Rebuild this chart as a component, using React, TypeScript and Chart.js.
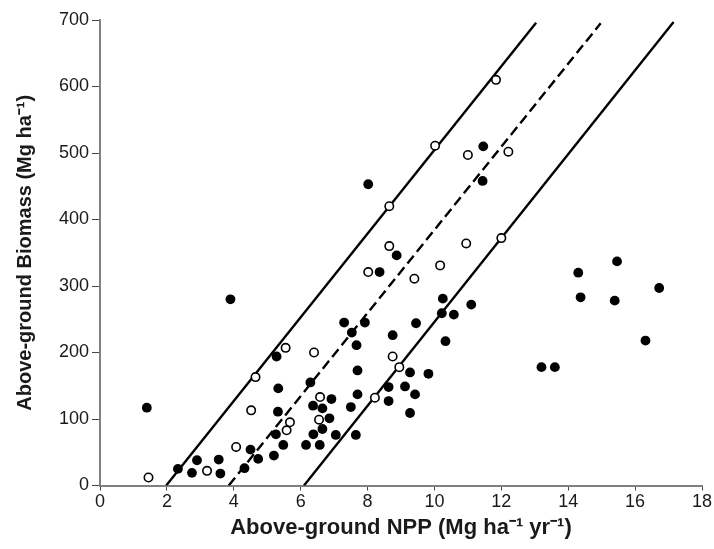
import React, { useEffect, useRef } from "react";
import { Chart, registerables } from "chart.js";

Chart.register(...registerables);

// Filled circles (closed symbols)
const filledX = [1.4, 3.9, 2.33, 2.75, 2.9, 3.55, 3.6, 4.32, 4.5, 4.73, 5.2, 5.28, 5.33, 5.32, 5.26, 5.48, 6.16, 6.29, 6.37, 6.38, 6.57, 6.65, 6.65, 6.86, 6.92, 7.05, 7.3, 7.92, 7.53, 7.67, 8.75, 9.45, 10.25, 10.22, 10.58, 11.1, 10.33, 7.7, 7.7, 7.5, 7.65, 8.63, 8.63, 9.27, 9.12, 9.42, 9.27, 9.82, 13.2, 13.6, 14.3, 14.37, 15.46, 15.39, 16.72, 16.31, 8.02, 11.46, 11.44, 8.36, 8.87];
const filledY = [117, 280, 25, 19, 38, 39, 18, 26, 54, 40, 45, 194, 146, 111, 77, 61, 61, 155, 120, 77, 61, 116, 85, 101, 130, 76, 245, 245, 230, 211, 226, 244, 281, 259, 257, 272, 217, 173, 137, 118, 76, 148, 127, 170, 149, 137, 109, 168, 178, 178, 320, 283, 337, 278, 297, 218, 453, 510, 458, 321, 346];

// Open circles
const openX = [1.45, 3.2, 4.07, 4.52, 4.65, 5.55, 5.68, 5.58, 6.4, 6.58, 6.55, 8.65, 8.02, 9.4, 10.17, 10.95, 12.0, 8.75, 8.95, 8.22, 11.84, 10.02, 11.0, 12.21, 8.65];
const openY = [12, 22, 58, 113, 163, 207, 95, 83, 200, 133, 99, 360, 321, 311, 331, 364, 372, 194, 178, 132, 610, 511, 497, 502, 420];

// Reference lines (endpoints in data units)
const upperLineX = [1.98, 13.04];
const upperLineY = [0, 696];
const midLineX = [3.85, 14.97];
const midLineY = [0, 695];
const lowerLineX = [6.1, 17.15];
const lowerLineY = [0, 697];

const xTitle = "Above-ground NPP (Mg ha\u207B\u00B9 yr\u207B\u00B9)";
const yTitle = "Above-ground Biomass (Mg ha\u207B\u00B9)";

const zip = (xs: number[], ys: number[]) => xs.map((x, i) => ({ x, y: ys[i] }));

export default function App() {
  const ref = useRef<HTMLCanvasElement | null>(null);

  useEffect(() => {
    if (!ref.current) return;
    const font = "'Liberation Sans', Arial, Helvetica, sans-serif";
    const lineDs = (xs: number[], ys: number[], dash: number[]) => ({
      type: "scatter" as const,
      data: zip(xs, ys),
      showLine: true,
      borderColor: "#000",
      borderWidth: 2.4,
      borderDash: dash,
      pointRadius: 0,
      pointHoverRadius: 0,
      fill: false,
      order: 2,
    });
    const chart = new Chart(ref.current, {
      type: "scatter",
      data: {
        datasets: [
          {
            data: zip(openX, openY),
            pointRadius: 4.2,
            pointBorderWidth: 1.6,
            pointBackgroundColor: "#fff",
            pointBorderColor: "#000",
            order: 0,
          } as any,
          {
            data: zip(filledX, filledY),
            pointRadius: 4.9,
            pointBorderWidth: 0,
            pointBackgroundColor: "#000",
            pointBorderColor: "#000",
            order: 1,
          } as any,
          lineDs(upperLineX, upperLineY, []),
          lineDs(midLineX, midLineY, [10, 5]),
          lineDs(lowerLineX, lowerLineY, []),
        ],
      },
      options: {
        responsive: false,
        animation: false,
        devicePixelRatio: 1,
        layout: { padding: { top: 20, right: 12, left: 0, bottom: 0 } },
        plugins: {
          legend: { display: false },
          tooltip: { enabled: false },
        },
        scales: {
          x: {
            type: "linear",
            min: 0,
            max: 18,
            ticks: {
              stepSize: 2,
              color: "#1a1a1a",
              font: { family: font, size: 18 },
              padding: 1,
              maxRotation: 0,
            },
            grid: {
              display: true,
              drawOnChartArea: false,
              drawTicks: true,
              tickLength: 5,
              color: "#444",
              lineWidth: 1,
            },
            border: { display: true, color: "#808080", width: 2 },
            title: {
              display: true,
              text: xTitle,
              color: "#1a1a1a",
              font: { family: font, size: 22, weight: "bold" },
              padding: { top: 0, bottom: 8 },
            },
            afterFit: (s: any) => {
              s.height = 63.5;
            },
          },
          y: {
            type: "linear",
            min: 0,
            max: 700,
            ticks: {
              stepSize: 100,
              color: "#1a1a1a",
              font: { family: font, size: 18 },
              padding: 3,
            },
            grid: {
              display: true,
              drawOnChartArea: false,
              drawTicks: true,
              tickLength: 8,
              color: "#444",
              lineWidth: 1,
            },
            border: { display: true, color: "#808080", width: 2 },
            title: {
              display: true,
              text: yTitle,
              color: "#1a1a1a",
              font: { family: font, size: 20, weight: "bold" },
              padding: { top: 13, bottom: 0 },
            },
            afterFit: (s: any) => {
              s.width = 100;
            },
          },
        },
      } as any,
    });
    return () => chart.destroy();
  }, []);

  return (
    <div style={{ position: "absolute", left: 0, top: 0, width: 714, height: 549, background: "#fff" }}>
      <canvas ref={ref} width={714} height={549} style={{ width: 714, height: 549, display: "block" }} />
    </div>
  );
}
